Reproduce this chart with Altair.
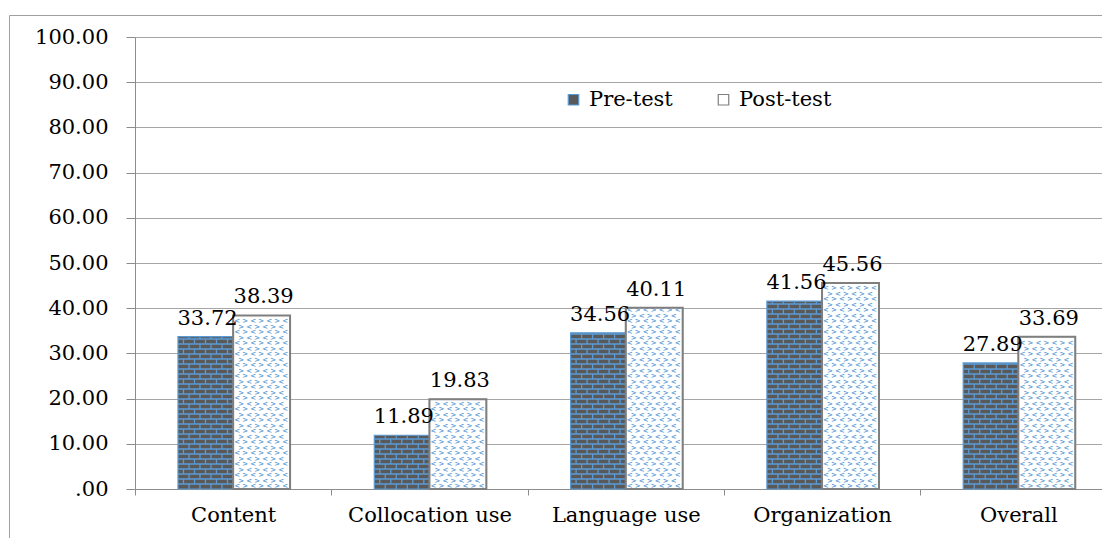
import altair as alt
import pandas as pd

categories = ["Content", "Collocation use", "Language use", "Organization", "Overall"]
series = ["Pre-test", "Post-test"]
pre_values = [33.72, 11.89, 34.56, 41.56, 27.89]
post_values = [38.39, 19.83, 40.11, 45.56, 33.69]
y_ticks = [0, 10, 20, 30, 40, 50, 60, 70, 80, 90, 100]

# layout (pixels)
W, H = 967, 452
BAND_PX = 196.3
XMAX = W / BAND_PX
PX_X = BAND_PX          # px per x unit
PX_Y = H / 100.0        # px per y unit
PRE_OFF = (0.219, 0.5)
POST_OFF = (0.5, 0.79)

FONT = "DejaVu Serif"
FS = 21
BLUE = "#5b9bd5"
BRICK = "#595959"

# bars table
rows = []
for i, c in enumerate(categories):
    rows.append(dict(cat=c, series="Pre-test", x0=i + PRE_OFF[0], x1=i + PRE_OFF[1],
                     value=pre_values[i]))
    rows.append(dict(cat=c, series="Post-test", x0=i + POST_OFF[0], x1=i + POST_OFF[1],
                     value=post_values[i]))
bars = pd.DataFrame(rows)
bars["mid"] = (bars["x0"] + bars["x1"]) / 2
bars["label"] = bars["value"].map(lambda v: f"{v:.2f}")

# brick pattern for pre-test bars
row_h = 5.0 / PX_Y
brick_w = 11.0 / PX_X
hlines, vlines = [], []
for i in range(len(categories)):
    v = pre_values[i]
    x0, x1 = i + PRE_OFF[0], i + PRE_OFF[1]
    k = 0
    while k * row_h < v:
        ylo = k * row_h
        yhi = min((k + 1) * row_h, v)
        if k > 0:
            hlines.append(dict(x=x0, x2=x1, y=ylo))
        xs = x0 + (0.5 * (k % 2)) * brick_w
        while xs < x1 - 0.3 / PX_X:
            if xs > x0 + 1.5 / PX_X:
                vlines.append(dict(x=xs, y=ylo, y2=yhi))
            xs += brick_w
        k += 1
hl = pd.DataFrame(hlines)
vl = pd.DataFrame(vlines)

# dotted glyph pattern for post-test bars
g_row = 5.5 / PX_Y
g_col = 8.0 / PX_X
glyphs = []
for i in range(len(categories)):
    v = post_values[i]
    x0, x1 = i + POST_OFF[0], i + POST_OFF[1]
    r = 0
    while (r + 0.7) * g_row < v:
        y = (r + 0.5) * g_row
        c = 0
        xs = x0 + 4.0 / PX_X + (r % 2) * g_col / 2
        while xs < x1 - 3.5 / PX_X:
            glyphs.append(dict(x=xs, y=y, ch="<" if (r + c) % 2 == 0 else ">"))
            xs += g_col
            c += 1
        r += 1
gl = pd.DataFrame(glyphs)

xscale = alt.Scale(domain=[0, XMAX], nice=False, zero=False)
yscale = alt.Scale(domain=[0, 100], nice=False)

label_expr = "[" + ",".join(f"'{c}'" for c in categories) + "][datum.value]"

x_axis = alt.Axis(values=list(range(len(categories))), labelExpr=label_expr, labelOffset=BAND_PX / 2,
                  tickSize=6, labelPadding=9, grid=False, domainColor="#8c8c8c", tickColor="#8c8c8c",
                  labelFlush=False, labelOverlap=False, labelFont=FONT, labelFontSize=FS,
                  labelColor="#000000", title=None, labelBound=False)
y_axis = alt.Axis(values=y_ticks, labelExpr="datum.value == 0 ? '.00' : format(datum.value, '.2f')",
                  tickSize=9, labelPadding=18, grid=True, gridColor="#a6a6a6", domainColor="#8c8c8c",
                  tickColor="#8c8c8c", labelFont=FONT, labelFontSize=FS, labelColor="#000000",
                  title=None)

legend = alt.Legend(orient="none", legendX=428, legendY=52, direction="horizontal", title=None,
                    symbolType="square", symbolSize=110, symbolStrokeWidth=1.2,
                    labelFont=FONT, labelFontSize=FS, labelColor="#000000", columnPadding=40,
                    labelOffset=5, padding=0)

color_scale = alt.Scale(domain=series, range=[BRICK, "#ffffff"])
stroke_scale = alt.Scale(domain=series, range=[BLUE, "#7f7f7f"])

base_bars = alt.Chart(bars).mark_rect(strokeWidth=1.2).encode(
    x=alt.X("x0:Q", scale=xscale, axis=x_axis),
    x2="x1:Q",
    y=alt.Y("value:Q", scale=yscale, axis=y_axis),
    y2=alt.datum(0),
    fill=alt.Fill("series:N", scale=color_scale, legend=legend),
    stroke=alt.Stroke("series:N", scale=stroke_scale, legend=legend),
)

hrules = alt.Chart(hl).mark_rule(color=BLUE, strokeWidth=1.3).encode(
    x=alt.X("x:Q", scale=xscale), x2="x2:Q", y=alt.Y("y:Q", scale=yscale))
vrules = alt.Chart(vl).mark_rule(color=BLUE, strokeWidth=1.3).encode(
    x=alt.X("x:Q", scale=xscale), y=alt.Y("y:Q", scale=yscale), y2="y2:Q")

glyph_layer = alt.Chart(gl).mark_text(color=BLUE, fontSize=7, font="DejaVu Sans",
                                      fontWeight="bold").encode(
    x=alt.X("x:Q", scale=xscale), y=alt.Y("y:Q", scale=yscale), text="ch:N")

post_outline = alt.Chart(bars).transform_filter(alt.datum.series == "Post-test").mark_rect(
    fill=None, stroke="#7f7f7f", strokeWidth=2).encode(
    x=alt.X("x0:Q", scale=xscale), x2="x1:Q", y=alt.Y("value:Q", scale=yscale), y2=alt.datum(0))

labels = alt.Chart(bars).mark_text(font=FONT, fontSize=FS, color="#000000", dy=-12, dx=2,
                                   baseline="alphabetic", align="center").encode(
    x=alt.X("mid:Q", scale=xscale), y=alt.Y("value:Q", scale=yscale), text="label:N")

frame_df = pd.DataFrame({"a": [0]})
frame_left = alt.Chart(frame_df).mark_rule(color="#a0a0a0", strokeWidth=1).encode(
    x=alt.value(-125.5), y=alt.value(-21.5), y2=alt.value(H + 49))
frame_top = alt.Chart(frame_df).mark_rule(color="#a0a0a0", strokeWidth=1).encode(
    x=alt.value(-125.5), x2=alt.value(W + 10), y=alt.value(-21.5))

chart = alt.layer(base_bars, hrules, vrules, glyph_layer, post_outline, labels,
                  frame_left, frame_top).properties(
    width=W, height=H,
    autosize=alt.AutoSizeParams(type="none"),
    padding={"left": 127, "top": 29, "right": 0, "bottom": 49},
    background="#ffffff",
).configure_view(strokeWidth=0)

chart.save("out.html", embed_options={"renderer": "svg", "actions": False})
